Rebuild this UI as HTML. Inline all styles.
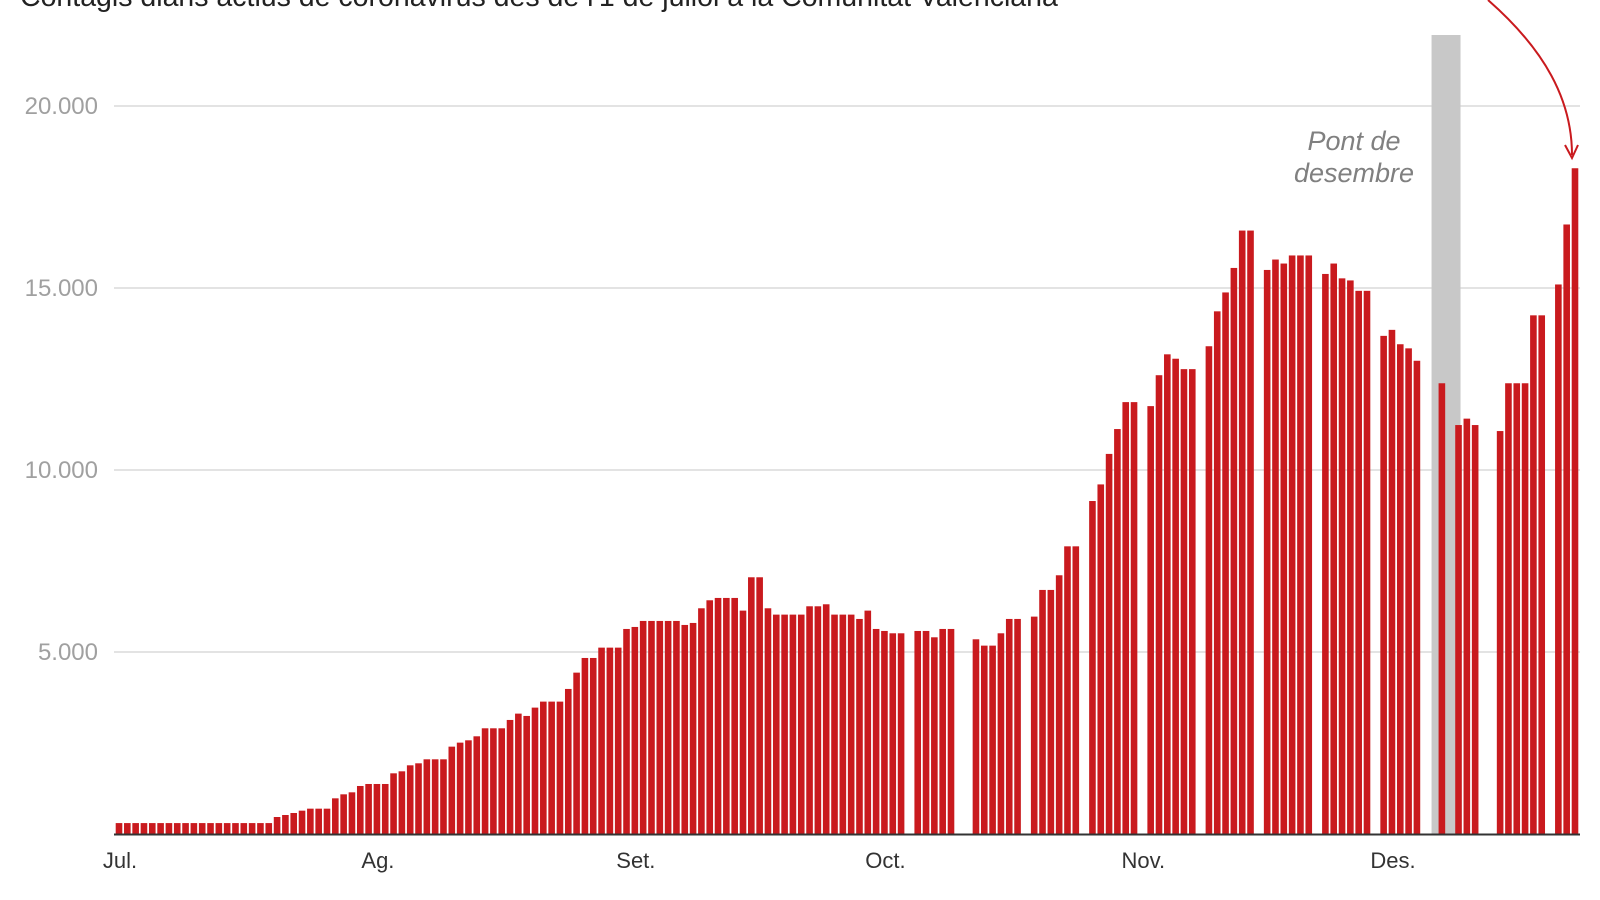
<!DOCTYPE html>
<html><head><meta charset="utf-8"><style>
html,body{margin:0;padding:0;background:#fff;width:1600px;height:900px;overflow:hidden}
svg{display:block}
text{font-family:"Liberation Sans",sans-serif}
</style></head><body>
<svg id="chart" width="1600" height="900" xmlns="http://www.w3.org/2000/svg">
<text x="20" y="6" font-size="28.5" fill="#222">Contagis diaris actius de coronavirus des de l'1 de juliol a la Comunitat Valenciana</text>
<g id="grid"></g>
<g id="band"></g>
<g id="bars"></g>
<g id="xaxis"></g>
<text x="1354" y="150" font-size="27" font-style="italic" fill="#808080" text-anchor="middle">Pont de</text>
<text x="1354" y="182" font-size="27" font-style="italic" fill="#808080" text-anchor="middle">desembre</text>
<path d="M1488,0 C1545,50 1572,100 1572,155" fill="none" stroke="#c91a1e" stroke-width="2"/>
<path d="M1565,145 L1572,158 L1578,145" fill="none" stroke="#c91a1e" stroke-width="2"/>
</svg>
<script>
const values = [300,300,300,300,300,300,300,300,300,300,300,300,300,300,300,300,300,300,300,
467,522,577,641,696,696,696,980,1090,1145,1319,1374,1374,1374,1667,1722,1887,1942,2052,2052,2052,
2400,2510,2574,2684,2904,2904,2904,3133,3307,3243,3472,3637,3637,3637,3985,4433,
4836,4836,5120,5120,5120,5633,5688,5853,5853,5853,5853,5853,5743,5798,6201,6421,6485,6485,6485,6137,7053,7053,
6201,6027,6027,6027,6027,6256,6256,6311,6027,6027,6027,5908,6137,5633,5578,5514,5514,null,5578,5578,5404,5633,5633,null,null,
5349,5175,5175,5514,5908,5908,null,5972,6705,6705,7108,7903,7903,null,9148,9604,10442,11125,11865,11865,null,
11755,12604,13178,13057,12771,12771,null,13400,14359,14878,15551,16578,16578,null,15496,15782,15672,15894,15894,15894,null,
15386,15672,15265,15208,14922,14922,null,13685,13850,13455,13342,13001,null,null,12383,null,11235,11411,11235,null,null,
11070,12383,12383,12383,14249,14249,null,15097,16745,18290];
const yTicks = [5000,10000,15000,20000];
const yTickLabels = ["5.000","10.000","15.000","20.000"];
const monthLabels = ["Jul.","Ag.","Set.","Oct.","Nov.","Des."];
const monthStartDays = [0,31,62,92,123,153];
const bandDays = [158,161];

const NS="http://www.w3.org/2000/svg";
const x0=119, dx=8.32, yBase=834, pxPerUnit=364/10000;
const xs=d=>x0+d*dx;
const ys=v=>yBase-v*pxPerUnit;
function mk(t,a){const e=document.createElementNS(NS,t);for(const k in a)e.setAttribute(k,a[k]);return e;}
const grid=document.getElementById('grid');
yTicks.forEach((t,i)=>{
  const l=mk('line',{x1:114,x2:1580,y1:ys(t),y2:ys(t),stroke:'#e3e3e3','stroke-width':2});
  
  
  grid.appendChild(l);
  const tx=mk('text',{x:98,y:ys(t)+8,'font-size':24,fill:'#a0a0a0','text-anchor':'end'});
  
  
  tx.textContent=yTickLabels[i];grid.appendChild(tx);
});
const band=document.getElementById('band');
const br=mk('rect',{x:xs(bandDays[0])-2,y:35,width:xs(bandDays[1])-xs(bandDays[0])+4,height:yBase-35,fill:'#c8c8c8'});


band.appendChild(br);
const bars=document.getElementById('bars');
values.forEach((v,i)=>{
  if(v==null)return;
  const r=mk('rect',{x:xs(i)-3.3,y:ys(v),width:6.6,height:yBase-ys(v),fill:'#c91a1e'});
  
  
  bars.appendChild(r);
});
const xa=document.getElementById('xaxis');
const al=mk('line',{x1:114,x2:1580,y1:yBase+0.5,y2:yBase+0.5,stroke:'#333','stroke-width':2});


xa.appendChild(al);
monthLabels.forEach((m,i)=>{
  const t=mk('text',{x:xs(monthStartDays[i])+1,y:868,'font-size':22,fill:'#333','text-anchor':'middle'});
  
  
  t.textContent=m;xa.appendChild(t);
});
</script>
</body></html>
